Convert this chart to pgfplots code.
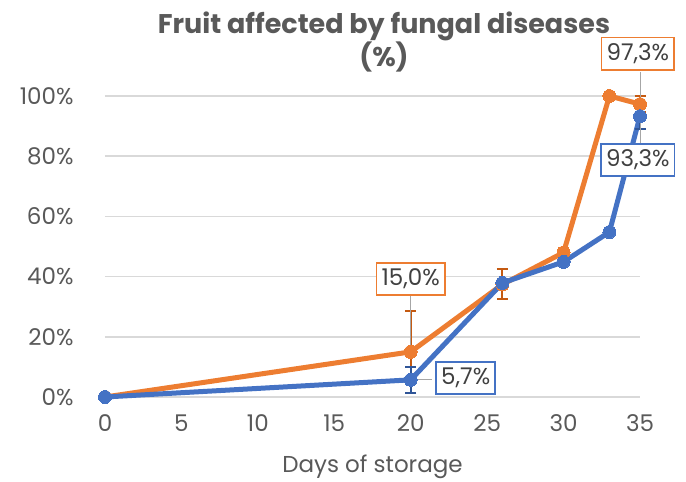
\documentclass[border=0pt]{standalone}
\usepackage{fontspec}
\setmainfont{Poppins}
\usepackage{pgfplots}
\pgfplotsset{compat=1.18}
\definecolor{cor}{HTML}{ED7D31}
\definecolor{cbl}{HTML}{4472C4}
\definecolor{cord}{HTML}{C55A11}
\definecolor{cbld}{HTML}{2F5597}
\definecolor{txt}{HTML}{595959}
\definecolor{lbl}{HTML}{404040}
\definecolor{grd}{HTML}{D9D9D9}
\definecolor{lead}{HTML}{A6A6A6}
\begin{document}
\begin{tikzpicture}
\begin{axis}[
  scale only axis, width=535pt, height=301pt,
  xmin=0, xmax=35, ymin=0, ymax=100,
  xtick={0,5,...,35}, ytick={0,20,...,100},
  ymajorgrids, grid style={grd, line width=1.5pt},
  axis line style={draw=none}, major tick length=0pt,
  /pgf/number format/assume math mode=true,
  tick label style={font=\fontsize{23}{26}\selectfont, text=txt},
  yticklabel={\pgfmathprintnumber{\tick}\%},
  xticklabel style={yshift=-14pt},
  yticklabel style={xshift=-28pt},
  xlabel={Days of storage},
  xlabel style={font=\fontsize{23}{26}\selectfont, text=txt, yshift=-16pt},
  clip=false,
]
\addplot[cor, line width=5pt, line join=round, mark=*, mark size=6.5pt, mark options={line width=0pt},
  error bars/.cd, y dir=both, y explicit,
  error bar style={cord, line width=2pt},
  error mark options={cord, line width=2pt, mark size=5.5pt, rotate=90}]
  coordinates {(0,0) +- (0,0) (20,15.0) +- (0,13.7) (26,37.4) +- (0,5.0) (30,48.0) +- (0,0) (33,100.0) +- (0,0) (35,97.3) +- (0,2.7)};
\addplot[cbl, line width=5pt, line join=round, mark=*, mark size=6.5pt, mark options={line width=0pt},
  error bars/.cd, y dir=both, y explicit,
  error bar style={cbld, line width=2pt},
  error mark options={cbld, line width=2pt, mark size=5.5pt, rotate=90}]
  coordinates {(0,0) +- (0,0) (20,5.7) +- (0,4.4) (26,37.9) +- (0,0) (30,44.9) +- (0,0) (33,54.8) +- (0,0) (35,93.3) +- (0,4.4)};
\draw[lead, line width=1pt] (axis cs:20,33.5) -- (axis cs:20,15);
\draw[lead, line width=1pt] (axis cs:21.4,5.7) -- (axis cs:20,5.7);
\draw[lead, line width=1pt] (axis cs:35,108) -- (axis cs:35,97.3);
\draw[lead, line width=1pt] (axis cs:35,84.5) -- (axis cs:35,93.3);
\tikzset{dl/.style={line width=1.5pt, fill=white, text=lbl, font=\fontsize{23}{26}\selectfont, inner xsep=5pt, inner ysep=6pt}}
\node[dl, draw=cor] at (axis cs:20.0,39.2) {15,0\%};
\node[dl, draw=cbl] at (axis cs:23.6,6.3) {5,7\%};
\node[dl, draw=cor] at (axis cs:34.86,114) {97,3\%};
\node[dl, draw=cbl] at (axis cs:34.86,78.7) {93,3\%};
\end{axis}
\node[text=txt, font=\fontsize{27}{33}\selectfont\bfseries, align=center] at (279pt,355pt) {Fruit affected by fungal diseases\\(\%)};
\path[use as bounding box] (-105pt,-84pt) rectangle (581pt,397pt);
\end{tikzpicture}
\end{document}
